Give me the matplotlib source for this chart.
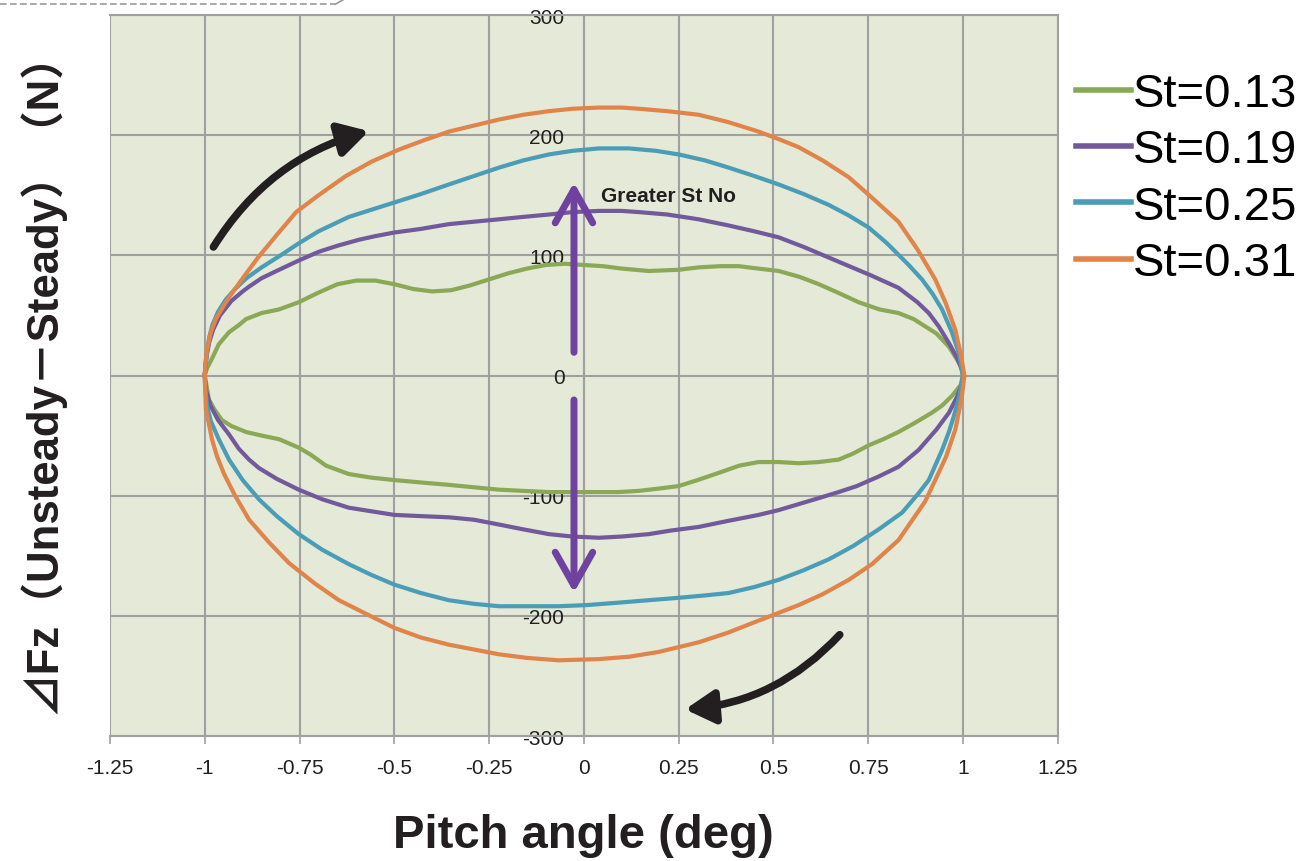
import matplotlib
matplotlib.use("Agg")
from matplotlib import pyplot as plt
from matplotlib.lines import Line2D

# St=0.13 (upper branch left->right, lower branch right->left)
x13_up = [-1.0, -0.994, -0.981, -0.963, -0.936, -0.91, -0.891, -0.85, -0.804, -0.752, -0.7, -0.65,
          -0.6, -0.55, -0.5, -0.45, -0.4, -0.35, -0.3, -0.25, -0.2, -0.15, -0.1, -0.05, 0.0, 0.05,
          0.1, 0.171, 0.25, 0.303, 0.36, 0.409, 0.46, 0.514, 0.57, 0.62, 0.67, 0.725, 0.78, 0.83,
          0.87, 0.9, 0.93, 0.963, 0.985, 0.994, 1.0]
y13_up = [0, 6, 14, 26, 36, 42, 47, 52, 55, 61, 69, 76, 79, 79, 76, 72, 70, 71, 75, 80, 85, 89, 92,
          93, 92, 91, 89, 87, 88, 90, 91, 91, 89, 87, 82, 76, 69, 61, 55, 52, 47, 41, 35, 24, 13, 8, 0]
x13_dn = [1.0, 0.994, 0.971, 0.945, 0.918, 0.87, 0.83, 0.79, 0.752, 0.71, 0.672, 0.62, 0.567, 0.514,
          0.461, 0.41, 0.356, 0.3, 0.25, 0.2, 0.145, 0.09, 0.04, -0.03, -0.092, -0.16, -0.224,
          -0.29, -0.356, -0.43, -0.5, -0.56, -0.62, -0.68, -0.72, -0.752, -0.804, -0.85, -0.891,
          -0.93, -0.955, -0.975, -0.989, -1.0]
y13_dn = [0, -8, -17, -25, -31, -40, -47, -53, -58, -65, -70, -72, -73, -72, -72, -75, -81, -87,
          -92, -94, -96, -97, -97, -97, -97, -96, -95, -93, -91, -89, -87, -85, -82, -75, -66, -60,
          -53, -50, -47, -42, -37, -28, -20, 0]

# St=0.19
x19_up = [-1.0, -0.998, -0.994, -0.988, -0.978, -0.96, -0.93, -0.9, -0.883, -0.85, -0.804, -0.75,
          -0.699, -0.65, -0.593, -0.55, -0.5, -0.43, -0.356, -0.29, -0.224, -0.16, -0.092, -0.03,
          0.04, 0.1, 0.145, 0.22, 0.303, 0.38, 0.45, 0.514, 0.58, 0.64, 0.7, 0.76, 0.83, 0.88,
          0.91, 0.936, 0.965, 0.984, 0.996, 1.003]
y19_up = [0, 8, 18, 28, 38, 50, 62, 70, 74, 81, 88, 96, 103, 108, 113, 116, 119, 122, 126, 128, 130,
          132, 134, 136, 137, 137, 136, 134, 130, 125, 120, 115, 107, 99, 91, 83, 73, 61, 52, 41,
          26, 15, 6, 0]
x19_dn = [1.003, 0.996, 0.984, 0.963, 0.93, 0.883, 0.83, 0.778, 0.72, 0.672, 0.62, 0.567, 0.514,
          0.461, 0.38, 0.303, 0.23, 0.171, 0.1, 0.04, -0.03, -0.092, -0.16, -0.224, -0.29, -0.356,
          -0.43, -0.5, -0.56, -0.62, -0.69, -0.752, -0.81, -0.857, -0.883, -0.91, -0.936, -0.965,
          -0.985, -0.997, -1.0]
y19_dn = [0, -8, -18, -31, -45, -62, -76, -84, -92, -97, -102, -107, -112, -116, -121, -126, -129,
          -132, -134, -135, -134, -132, -128, -124, -120, -118, -117, -116, -113, -110, -103, -95,
          -86, -77, -70, -61, -49, -37, -25, -12, 0]

# St=0.25
x25_up = [-1.0, -0.998, -0.994, -0.988, -0.98, -0.965, -0.945, -0.92, -0.89, -0.85, -0.8, -0.752,
          -0.7, -0.62, -0.56, -0.5, -0.43, -0.356, -0.29, -0.224, -0.16, -0.092, -0.03, 0.04, 0.119,
          0.19, 0.25, 0.32, 0.382, 0.45, 0.514, 0.58, 0.646, 0.7, 0.752, 0.8, 0.857, 0.892, 0.92,
          0.945, 0.971, 0.99, 1.0]
y25_up = [0, 10, 20, 32, 42, 53, 63, 72, 81, 90, 100, 110, 120, 132, 138, 144, 151, 159, 166, 173,
          179, 184, 187, 189, 189, 187, 184, 179, 173, 166, 159, 151, 142, 133, 123, 110, 92, 80,
          68, 55, 36, 18, 0]
x25_dn = [1.0, 0.99, 0.975, 0.963, 0.945, 0.91, 0.883, 0.84, 0.778, 0.71, 0.646, 0.58, 0.514, 0.45,
          0.382, 0.32, 0.25, 0.17, 0.092, 0.01, -0.066, -0.15, -0.224, -0.29, -0.356, -0.43, -0.5,
          -0.56, -0.62, -0.69, -0.752, -0.81, -0.857, -0.9, -0.936, -0.963, -0.984, -0.994, -0.999,
          -1.0]
y25_dn = [0, -18, -35, -47, -62, -87, -98, -114, -128, -142, -153, -162, -170, -176, -181, -183,
          -185, -187, -189, -191, -192, -192, -192, -190, -187, -181, -174, -166, -157, -145, -132,
          -117, -103, -87, -70, -53, -38, -25, -10, 0]

# St=0.31
x31_up = [-1.0, -0.998, -0.994, -0.984, -0.971, -0.95, -0.936, -0.902, -0.86, -0.81, -0.759, -0.7,
          -0.628, -0.56, -0.488, -0.42, -0.356, -0.29, -0.224, -0.16, -0.092, -0.03, 0.04, 0.1,
          0.145, 0.22, 0.303, 0.38, 0.461, 0.52, 0.567, 0.63, 0.699, 0.76, 0.83, 0.88, 0.927,
          0.955, 0.98, 0.994, 1.004]
y31_up = [0, 10, 22, 36, 47, 58, 65, 80, 98, 117, 136, 150, 166, 178, 188, 196, 203, 208, 213, 217,
          220, 222, 223, 223, 222, 220, 217, 211, 203, 196, 190, 179, 165, 148, 128, 105, 80, 60,
          38, 18, 0]
x31_dn = [1.004, 0.997, 0.98, 0.955, 0.927, 0.9, 0.83, 0.76, 0.699, 0.63, 0.567, 0.469, 0.38,
          0.303, 0.198, 0.12, 0.04, -0.066, -0.15, -0.224, -0.29, -0.356, -0.43, -0.5, -0.57,
          -0.646, -0.71, -0.778, -0.83, -0.883, -0.92, -0.949, -0.968, -0.981, -0.997, -1.0]
y31_dn = [0, -18, -45, -68, -87, -105, -137, -157, -170, -182, -191, -203, -214, -222, -230, -234,
          -236, -237, -235, -232, -228, -224, -218, -210, -199, -187, -173, -156, -139, -120, -100,
          -82, -67, -53, -28, 0]

labels = ["St=0.13", "St=0.19", "St=0.25", "St=0.31"]
colors = ["#8AA856", "#72599B", "#4A9DB6", "#E0844A"]
xs = [x13_up + x13_dn, x19_up + x19_dn, x25_up + x25_dn, x31_up + x31_dn]
ys = [y13_up + y13_dn, y19_up + y19_dn, y25_up + y25_dn, y31_up + y31_dn]

xticks = [-1.25, -1, -0.75, -0.5, -0.25, 0, 0.25, 0.5, 0.75, 1, 1.25]
xticklabels = ["-1.25", "-1", "-0.75", "-0.5", "-0.25", "0", "0.25", "0.5", "0.75", "1", "1.25"]
yticks = [-300, -200, -100, 0, 100, 200, 300]

plt.rcParams["font.family"] = ["Liberation Sans", "Noto Sans CJK JP", "DejaVu Sans"]
plt.rcParams["axes.unicode_minus"] = False

fig = plt.figure(figsize=(13, 8.62), dpi=100)
ax = fig.add_axes([0.0846, 0.145, 0.729, 0.8364])
ax.set_facecolor("#E4E9D8")

for x, y, c, lab in zip(xs, ys, colors, labels):
    ax.plot(x, y, color=c, lw=3.0, label=lab, solid_joinstyle="round", zorder=3)

ax.set_xlim(-1.25, 1.25)
ax.set_ylim(-300, 300)
ax.set_xticks(xticks)
ax.set_xticklabels(xticklabels)
ax.set_yticks(yticks)
ax.grid(True, color="#A0A0A0", lw=1.5, zorder=1)
ax.set_axisbelow(True)
for s in ax.spines.values():
    s.set_color("#A0A0A0")
    s.set_linewidth(1.5)
ax.spines["left"].set_position(("data", 0))
ax.tick_params(axis="x", direction="out", length=6, width=1.2, color="#A0A0A0",
               labelsize=15, pad=10, labelcolor="#231F20")
ax.tick_params(axis="y", length=0, labelsize=15, pad=14, labelcolor="#231F20")

ax.set_xlabel("Pitch angle (deg)", fontsize=34, fontweight="bold", labelpad=26, color="#231F20")
fig.text(0.032, 0.568, "⊿Fz（Unsteady－Steady）（N）", rotation=90, ha="center", va="center",
         fontsize=31.5, fontweight="bold", color="#231F20")

# purple arrows
purple_arrow = dict(arrowstyle="->,head_length=0.8,head_width=0.45", color="#7042A0", lw=5,
                    mutation_scale=30)
ax.annotate("", xy=(-0.026, 163), xytext=(-0.026, 17), arrowprops=purple_arrow)
ax.annotate("", xy=(-0.026, -183), xytext=(-0.026, -18), arrowprops=purple_arrow)
ax.text(0.045, 150, "Greater St No", fontsize=15, fontweight="bold", color="#231F20",
        va="center", ha="left")

# black cycle arrows
black_arrow = dict(arrowstyle="-|>,head_length=0.7,head_width=0.4", color="#231F20", lw=5.5,
                   mutation_scale=25, connectionstyle="arc3,rad=-0.2")
ax.annotate("", xy=(-0.56, 204), xytext=(-0.981, 105), arrowprops=black_arrow)
ax.annotate("", xy=(0.26, -278), xytext=(0.68, -214), arrowprops=black_arrow)

fig.legend(loc="upper left", bbox_to_anchor=(0.8135, 0.937), frameon=False, fontsize=34,
           handlelength=1.15, handletextpad=0.05, labelspacing=0.26, borderaxespad=0)
for line in fig.legends[0].get_lines():
    line.set_linewidth(4)

# dashed frame remnant at top-left
fig.add_artist(Line2D([0.0, 0.258], [0.994, 0.994], color="#9A9A9A", lw=1.2, ls=(0, (4, 2)),
                      transform=fig.transFigure))
fig.add_artist(Line2D([0.258, 0.265], [0.994, 1.0], color="#9A9A9A", lw=1.2,
                      transform=fig.transFigure))

fig.savefig("out.png", dpi=100)
